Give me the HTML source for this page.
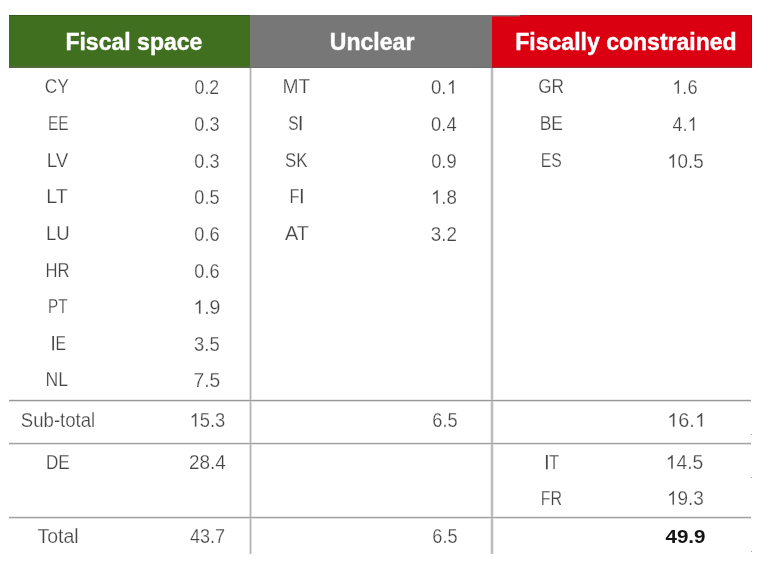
<!DOCTYPE html>
<html><head><meta charset="utf-8"><style>
*{margin:0;padding:0;box-sizing:border-box}
html,body{width:760px;height:561px;background:#fff;overflow:hidden}
body{position:relative;font-family:"Liberation Sans",sans-serif}
.h{position:absolute;top:15px;height:53px}
.ht{position:absolute;height:30px;line-height:30px;color:#fff;-webkit-text-stroke:0.4px #fff;font-weight:bold;font-size:23.5px;text-align:center;white-space:nowrap;width:300px;margin-left:-150px}
.ht span{display:inline-block;transform:scaleX(.98)}
.d{position:absolute;width:200px;margin-left:-100px;text-align:center;font-size:20.0px;line-height:24px;height:24px;color:#444;-webkit-text-stroke:0.25px #fff;white-space:nowrap}
.d span{display:inline-block}
.I{font-style:normal;-webkit-text-stroke:0.25px #444}
.one{display:inline-block;width:0.5562em;height:0.688em;vertical-align:baseline;overflow:visible}
.b{font-weight:bold;color:#151515;-webkit-text-stroke:0;font-size:19px}
.hl{position:absolute;left:9px;width:742px;height:1px;background:#a2a2a2;box-shadow:0 -1px 0 #e8e8e8,0 1px 0 #dcdcdc}
.vl{position:absolute;top:68px;width:1px;height:486px;background:#b4b4b4;box-shadow:-1px 0 0 #e2e2e2,1px 0 0 #dedede}
#wrap{position:absolute;left:0;top:0;width:760px;height:561px;will-change:transform}
</style></head><body><div id="wrap">

<div class="h" style="left:9px;width:241px;background:#40701f;border-top:1px solid #38581f;box-shadow:inset 0 -2px 0 #52693c"></div>
<div class="h" style="left:250px;width:242px;background:#777;box-shadow:inset 0 -1px 0 #6f6f6f"></div>
<div class="h" style="left:492px;width:260px;background:#da0011;border-top:1px solid #a8081a;box-shadow:inset 0 -1px 0 #a8222e,inset 0 -2px 0 #c41020,inset -1px 0 0 #b80010"></div>
<div style="position:absolute;left:492px;top:15px;width:28px;height:1px;background:#847c7c"></div>
<div style="position:absolute;left:492px;top:16px;width:28px;height:1px;background:#b8303c"></div>
<div class="ht" style="left:133.8px;top:26.86px"><span>Fiscal space</span></div>
<div class="ht" style="left:372.3px;top:26.86px"><span>Unclear</span></div>
<div class="ht" style="left:625.6px;top:26.86px"><span>Fiscally constrained</span></div>
<div class="hl" style="top:400px;background:transparent;box-shadow:0 -1px 0 #ececec,0 1px 0 #e0e0e0"></div>
<div class="hl" style="top:443px;background:transparent;box-shadow:0 -1px 0 #ececec,0 1px 0 #e0e0e0"></div>
<div class="hl" style="top:517px;background:transparent;box-shadow:0 -1px 0 #ececec,0 1px 0 #e0e0e0"></div>
<div class="vl" style="left:250px"></div>
<div class="vl" style="left:491px;width:2px;background:#bdbdbd;box-shadow:-1px 0 0 #ececec,1px 0 0 #ececec"></div>
<div class="hl" style="top:400px;box-shadow:none;background:#9a9a9a"></div>
<div class="hl" style="top:443px;box-shadow:none"></div>
<div class="hl" style="top:517px;box-shadow:none"></div>
<div style="position:absolute;left:751px;top:434px;width:1px;height:1px;background:#a8a8a8"></div>
<div style="position:absolute;left:751px;top:477px;width:1px;height:1px;background:#a8a8a8"></div>
<div style="position:absolute;left:751px;top:551px;width:1px;height:1px;background:#a8a8a8"></div>
<div class="d" style="left:57.2px;top:74.00px"><span style="transform:scaleX(0.869)">CY</span></div>
<div class="d" style="left:206.6px;top:75.00px"><span style="transform:scaleX(0.886)">0.2</span></div>
<div class="d" style="left:58.1px;top:111.00px"><span style="transform:scaleX(0.771)">EE</span></div>
<div class="d" style="left:207.1px;top:112.00px"><span style="transform:scaleX(0.903)">0.3</span></div>
<div class="d" style="left:57.0px;top:148.00px"><span style="transform:scaleX(0.944)">LV</span></div>
<div class="d" style="left:207.1px;top:149.00px"><span style="transform:scaleX(0.903)">0.3</span></div>
<div class="d" style="left:57.4px;top:184.00px"><span style="transform:scaleX(0.988)">LT</span></div>
<div class="d" style="left:207.1px;top:185.00px"><span style="transform:scaleX(0.903)">0.5</span></div>
<div class="d" style="left:57.7px;top:221.00px"><span style="transform:scaleX(0.929)">LU</span></div>
<div class="d" style="left:207.1px;top:222.00px"><span style="transform:scaleX(0.905)">0.6</span></div>
<div class="d" style="left:57.6px;top:258.00px"><span style="transform:scaleX(0.832)">HR</span></div>
<div class="d" style="left:207.1px;top:259.00px"><span style="transform:scaleX(0.905)">0.6</span></div>
<div class="d" style="left:57.7px;top:294.00px"><span style="transform:scaleX(0.762)">PT</span></div>
<div class="d" style="left:206.5px;top:295.00px"><span style="transform:scaleX(0.975)"><svg class="one" viewBox="0 0 1139 1409"><path transform="matrix(1 0 0 -1 0 1409)" fill="#444" stroke="#fff" stroke-width="26" d="M763 0L583 0L583 1100Q518 1040 412 980Q306 920 222 890L222 1060Q373 1130 486 1225Q599 1320 646 1409L763 1409Z"/></svg>.9</span></div>
<div class="d" style="left:58.3px;top:331.00px"><span style="transform:scaleX(0.786)"><i class="I">I</i>E</span></div>
<div class="d" style="left:206.8px;top:332.00px"><span style="transform:scaleX(0.920)">3.5</span></div>
<div class="d" style="left:56.9px;top:367.00px"><span style="transform:scaleX(0.882)">NL</span></div>
<div class="d" style="left:206.8px;top:368.00px"><span style="transform:scaleX(0.963)">7.5</span></div>
<div class="d" style="left:296.5px;top:74.00px"><span style="transform:scaleX(0.963)">MT</span></div>
<div class="d" style="left:444.2px;top:75.00px"><span style="transform:scaleX(0.933)">0.<svg class="one" viewBox="0 0 1139 1409"><path transform="matrix(1 0 0 -1 0 1409)" fill="#444" stroke="#fff" stroke-width="26" d="M763 0L583 0L583 1100Q518 1040 412 980Q306 920 222 890L222 1060Q373 1130 486 1225Q599 1320 646 1409L763 1409Z"/></svg></span></div>
<div class="d" style="left:295.2px;top:111.00px"><span style="transform:scaleX(0.769)">S<i class="I">I</i></span></div>
<div class="d" style="left:443.7px;top:112.00px"><span style="transform:scaleX(0.920)">0.4</span></div>
<div class="d" style="left:296.6px;top:148.00px"><span style="transform:scaleX(0.844)">SK</span></div>
<div class="d" style="left:444.2px;top:149.00px"><span style="transform:scaleX(0.916)">0.9</span></div>
<div class="d" style="left:296.4px;top:184.00px"><span style="transform:scaleX(0.819)">F<i class="I">I</i></span></div>
<div class="d" style="left:443.6px;top:185.00px"><span style="transform:scaleX(0.936)"><svg class="one" viewBox="0 0 1139 1409"><path transform="matrix(1 0 0 -1 0 1409)" fill="#444" stroke="#fff" stroke-width="26" d="M763 0L583 0L583 1100Q518 1040 412 980Q306 920 222 890L222 1060Q373 1130 486 1225Q599 1320 646 1409L763 1409Z"/></svg>.8</span></div>
<div class="d" style="left:296.8px;top:221.00px"><span style="transform:scaleX(0.993)">AT</span></div>
<div class="d" style="left:444.0px;top:222.00px"><span style="transform:scaleX(0.942)">3.2</span></div>
<div class="d" style="left:551.4px;top:74.00px"><span style="transform:scaleX(0.858)">GR</span></div>
<div class="d" style="left:684.5px;top:75.00px"><span style="transform:scaleX(0.906)"><svg class="one" viewBox="0 0 1139 1409"><path transform="matrix(1 0 0 -1 0 1409)" fill="#444" stroke="#fff" stroke-width="26" d="M763 0L583 0L583 1100Q518 1040 412 980Q306 920 222 890L222 1060Q373 1130 486 1225Q599 1320 646 1409L763 1409Z"/></svg>.6</span></div>
<div class="d" style="left:550.9px;top:111.00px"><span style="transform:scaleX(0.876)">BE</span></div>
<div class="d" style="left:685.0px;top:112.00px"><span style="transform:scaleX(0.897)">4.<svg class="one" viewBox="0 0 1139 1409"><path transform="matrix(1 0 0 -1 0 1409)" fill="#444" stroke="#fff" stroke-width="26" d="M763 0L583 0L583 1100Q518 1040 412 980Q306 920 222 890L222 1060Q373 1130 486 1225Q599 1320 646 1409L763 1409Z"/></svg></span></div>
<div class="d" style="left:551.2px;top:148.00px"><span style="transform:scaleX(0.787)">ES</span></div>
<div class="d" style="left:685.7px;top:149.00px"><span style="transform:scaleX(0.940)"><svg class="one" viewBox="0 0 1139 1409"><path transform="matrix(1 0 0 -1 0 1409)" fill="#444" stroke="#fff" stroke-width="26" d="M763 0L583 0L583 1100Q518 1040 412 980Q306 920 222 890L222 1060Q373 1130 486 1225Q599 1320 646 1409L763 1409Z"/></svg>0.5</span></div>
<div class="d" style="left:57.9px;top:408.00px"><span style="transform:scaleX(0.930)">Sub-total</span></div>
<div class="d" style="left:207.4px;top:408.00px"><span style="transform:scaleX(0.918)"><svg class="one" viewBox="0 0 1139 1409"><path transform="matrix(1 0 0 -1 0 1409)" fill="#444" stroke="#fff" stroke-width="26" d="M763 0L583 0L583 1100Q518 1040 412 980Q306 920 222 890L222 1060Q373 1130 486 1225Q599 1320 646 1409L763 1409Z"/></svg>5.3</span></div>
<div class="d" style="left:444.8px;top:408.00px"><span style="transform:scaleX(0.907)">6.5</span></div>
<div class="d" style="left:686.0px;top:408.00px"><span style="transform:scaleX(0.991)"><svg class="one" viewBox="0 0 1139 1409"><path transform="matrix(1 0 0 -1 0 1409)" fill="#444" stroke="#fff" stroke-width="26" d="M763 0L583 0L583 1100Q518 1040 412 980Q306 920 222 890L222 1060Q373 1130 486 1225Q599 1320 646 1409L763 1409Z"/></svg>6.<svg class="one" viewBox="0 0 1139 1409"><path transform="matrix(1 0 0 -1 0 1409)" fill="#444" stroke="#fff" stroke-width="26" d="M763 0L583 0L583 1100Q518 1040 412 980Q306 920 222 890L222 1060Q373 1130 486 1225Q599 1320 646 1409L763 1409Z"/></svg></span></div>
<div class="d" style="left:57.5px;top:450.00px"><span style="transform:scaleX(0.857)">DE</span></div>
<div class="d" style="left:207.2px;top:450.00px"><span style="transform:scaleX(0.947)">28.4</span></div>
<div class="d" style="left:551.4px;top:450.00px"><span style="transform:scaleX(0.834)"><i class="I">I</i>T</span></div>
<div class="d" style="left:684.6px;top:450.00px"><span style="transform:scaleX(0.967)"><svg class="one" viewBox="0 0 1139 1409"><path transform="matrix(1 0 0 -1 0 1409)" fill="#444" stroke="#fff" stroke-width="26" d="M763 0L583 0L583 1100Q518 1040 412 980Q306 920 222 890L222 1060Q373 1130 486 1225Q599 1320 646 1409L763 1409Z"/></svg>4.5</span></div>
<div class="d" style="left:551.4px;top:486.00px"><span style="transform:scaleX(0.798)">FR</span></div>
<div class="d" style="left:685.2px;top:486.00px"><span style="transform:scaleX(0.947)"><svg class="one" viewBox="0 0 1139 1409"><path transform="matrix(1 0 0 -1 0 1409)" fill="#444" stroke="#fff" stroke-width="26" d="M763 0L583 0L583 1100Q518 1040 412 980Q306 920 222 890L222 1060Q373 1130 486 1225Q599 1320 646 1409L763 1409Z"/></svg>9.3</span></div>
<div class="d" style="left:58.6px;top:524.00px"><span style="transform:scaleX(0.974)">Total</span></div>
<div class="d" style="left:207.3px;top:524.00px"><span style="transform:scaleX(0.901)">43.7</span></div>
<div class="d" style="left:444.8px;top:524.00px"><span style="transform:scaleX(0.907)">6.5</span></div>
<div class="d b" style="left:685.7px;top:525.00px"><span style="transform:scaleX(1.085)">49.9</span></div>
</div></body></html>
